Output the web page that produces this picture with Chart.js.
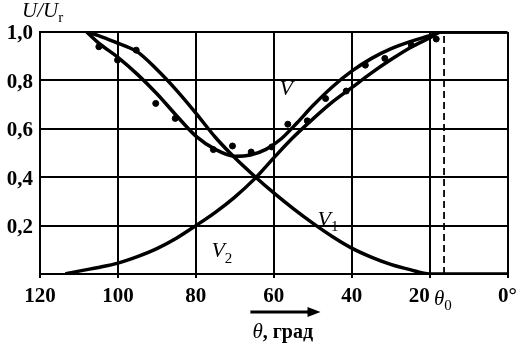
<!DOCTYPE html>
<html>
<head>
<meta charset="utf-8">
<script src="https://cdn.jsdelivr.net/npm/chart.js@4"></script>
<style>
  body { margin: 0; background: #fff; }
</style>
</head>
<body>
<canvas id="grafica" width="523" height="345"></canvas>
<script>
// curva V1 (decrece)
const v1Theta = [108, 105, 101, 95, 90, 85, 80, 75, 70, 65, 60, 55, 50, 45, 40, 35, 30, 25, 20, 0];
const v1Vals  = [1.0, 0.985, 0.96, 0.918, 0.845, 0.76, 0.665, 0.565, 0.48, 0.405, 0.335, 0.27, 0.21, 0.155, 0.107, 0.07, 0.04, 0.018, 0.0, 0.0];

// curva V2 (crece)
const v2Theta = [113.5, 110, 105, 100, 95, 90, 85, 80, 75, 70, 65, 60, 55, 50, 45, 40, 35, 30, 25, 20, 17, 0];
const v2Vals  = [0.0, 0.012, 0.027, 0.045, 0.072, 0.105, 0.148, 0.2, 0.255, 0.318, 0.392, 0.48, 0.565, 0.64, 0.71, 0.77, 0.83, 0.885, 0.935, 0.975, 1.0, 1.0];

// curva V (suma)
const vTheta = [108, 105, 100, 95, 90, 85, 80, 75, 70, 66, 62, 58, 54, 50, 45, 40, 35, 30, 25, 20, 17, 0];
const vVals  = [1.0, 0.955, 0.895, 0.825, 0.745, 0.655, 0.57, 0.515, 0.487, 0.492, 0.515, 0.56, 0.625, 0.695, 0.773, 0.838, 0.89, 0.93, 0.96, 0.985, 1.0, 1.0];

// puntos experimentales
const dotTheta = [104.9, 100.1, 95.3, 90.3, 85.3, 75.5, 70.6, 65.8, 60.5, 56.4, 51.4, 46.7, 41.4, 36.5, 31.5, 24.7, 18.3];
const dotVals  = [0.939, 0.884, 0.925, 0.705, 0.643, 0.514, 0.529, 0.504, 0.525, 0.619, 0.633, 0.725, 0.756, 0.863, 0.891, 0.946, 0.971];

const theta0 = 16.3;
const xTicks = [120, 100, 80, 60, 40, 20, 0];
const yTicks = [0.2, 0.4, 0.6, 0.8, 1.0];

const toPts = (xs, ys) => xs.map((x, i) => ({ x: x, y: ys[i] }));
const SERIF = '"Liberation Serif", "DejaVu Serif", serif';

function subLabel(ctx, main, sub, x, y, size) {
    ctx.font = 'italic ' + size + 'px ' + SERIF;
    ctx.fillText(main, x, y);
    const w = ctx.measureText(main).width;
    ctx.font = Math.round(size * 0.7) + 'px ' + SERIF;
    ctx.fillText(sub, x + w, y + size * 0.25);
}

const textos = {
    id: 'textos',
    afterDraw(chart) {
        const ctx = chart.ctx;
        const sx = chart.scales.x, sy = chart.scales.y;
        const bottom = chart.chartArea.bottom;
        ctx.save();
        ctx.fillStyle = '#000';
        ctx.strokeStyle = '#000';
        ctx.textBaseline = 'alphabetic';
        ctx.textAlign = 'left';

        // título eje y
        subLabel(ctx, 'U/U', 'r', 22, 17, 21);

        // nombres de curvas
        ctx.font = 'italic 22px ' + SERIF;
        ctx.fillText('V', sx.getPixelForValue(57) - 6, sy.getPixelForValue(0.74));
        subLabel(ctx, 'V', '1', sx.getPixelForValue(48) - 3, sy.getPixelForValue(0.2), 22);
        subLabel(ctx, 'V', '2', sx.getPixelForValue(75.5) - 2, sy.getPixelForValue(0.07), 22);

        // θ0 bajo la línea discontinua
        subLabel(ctx, 'θ', '0', sx.getPixelForValue(theta0) - 10, bottom + 31, 21);

        // flecha
        const xa = sx.getPixelForValue(66), xb = sx.getPixelForValue(48);
        const ya = bottom + 38;
        ctx.lineWidth = 3;
        ctx.beginPath();
        ctx.moveTo(xa, ya);
        ctx.lineTo(xb - 10, ya);
        ctx.stroke();
        ctx.beginPath();
        ctx.moveTo(xb, ya);
        ctx.lineTo(xb - 13, ya - 5);
        ctx.lineTo(xb - 13, ya + 5);
        ctx.closePath();
        ctx.fill();

        // título eje x
        ctx.font = 'italic 21px ' + SERIF;
        const x0 = xa + 2, y0 = bottom + 64;
        ctx.fillText('θ', x0, y0);
        const w = ctx.measureText('θ').width;
        ctx.font = 'bold 20px ' + SERIF;
        ctx.fillText(', град', x0 + w, y0);
        ctx.restore();
    }
};

const ctx = document.getElementById('grafica').getContext('2d');

new Chart(ctx, {
    type: 'scatter',
    data: {
        datasets: [
            { data: toPts(v1Theta, v1Vals), showLine: true, borderColor: '#000', borderWidth: 3.5, pointRadius: 0, cubicInterpolationMode: 'monotone' },
            { data: toPts(v2Theta, v2Vals), showLine: true, borderColor: '#000', borderWidth: 3.5, pointRadius: 0, cubicInterpolationMode: 'monotone' },
            { data: toPts(vTheta, vVals), showLine: true, borderColor: '#000', borderWidth: 3.5, pointRadius: 0, cubicInterpolationMode: 'monotone' },
            { data: toPts(dotTheta, dotVals), showLine: false, pointRadius: 3, backgroundColor: '#000', borderColor: '#000' },
            { data: [{ x: theta0, y: 0 }, { x: theta0, y: 1 }], showLine: true, borderColor: '#000', borderWidth: 1.8, borderDash: [7, 4], pointRadius: 0 }
        ]
    },
    options: {
        responsive: false,
        animation: false,
        devicePixelRatio: 1,
        layout: { padding: { top: 32, right: 11, left: 0, bottom: 0 } },
        plugins: { legend: { display: false }, tooltip: { enabled: false } },
        scales: {
            x: {
                type: 'linear',
                reverse: true,
                min: 0, max: 120,
                afterFit: s => { s.height = 71; },
                afterBuildTicks: s => { s.ticks = xTicks.map(v => ({ value: v })); },
                grid: { color: '#000', lineWidth: 2, tickLength: 4 },
                border: { color: '#000', width: 2 },
                ticks: {
                    color: '#000',
                    padding: 6,
                    maxRotation: 0,
                    font: { family: SERIF, size: 21, weight: 'bold' },
                    // el "20" queda a la izquierda para dejar sitio a θ0
                    callback: v => v === 0 ? '0°' : (v === 20 ? '20\u2003' : String(v))
                }
            },
            y: {
                type: 'linear',
                min: 0, max: 1,
                afterFit: s => { s.width = 40; },
                afterBuildTicks: s => { s.ticks = [0].concat(yTicks).map(v => ({ value: v })); },
                grid: { color: '#000', lineWidth: 2, drawTicks: false },
                border: { color: '#000', width: 2 },
                ticks: {
                    color: '#000',
                    padding: 7,
                    labelOffset: 2,
                    font: { family: SERIF, size: 21, weight: 'bold' },
                    callback: v => v === 0 ? '' : v.toFixed(1).replace('.', ',')
                }
            }
        }
    },
    plugins: [textos]
});
</script>
</body>
</html>
